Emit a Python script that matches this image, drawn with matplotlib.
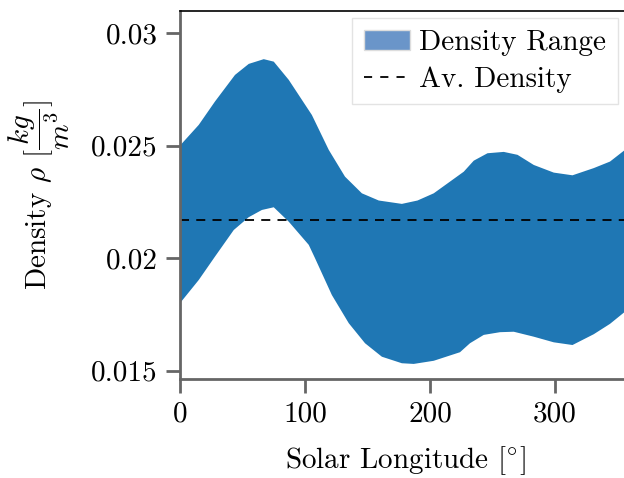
import matplotlib
matplotlib.use('Agg')
from matplotlib import pyplot as plt
from matplotlib.patches import Patch
from matplotlib.lines import Line2D

# solar longitude [deg] and density bounds [kg/m^3]
ls_upper = [0, 15, 28, 44, 55, 67, 75, 87, 105.5, 119, 132, 145.5, 159, 177.5, 190, 203,
            216, 227, 235, 246, 259, 270, 283, 299, 314, 331, 344, 356, 360]
rho_upper = [0.02500, 0.02592, 0.02696, 0.02814, 0.02863, 0.02884, 0.02873, 0.02792, 0.02636,
             0.02481, 0.02362, 0.02288, 0.02256, 0.02241, 0.02256, 0.02288, 0.02340, 0.02384,
             0.02433, 0.02466, 0.02472, 0.02459, 0.02414, 0.02380, 0.02368, 0.02400, 0.02429,
             0.02481, 0.02500]
ls_lower = [0, 15, 28, 43, 55, 65.5, 75, 87, 103, 108, 121.5, 135, 148, 161.5, 177.5, 187,
            203, 224, 232, 243, 256, 267, 283, 299, 314, 331, 344, 356, 360]
rho_lower = [0.01800, 0.01903, 0.02007, 0.02125, 0.02182, 0.02214, 0.02226, 0.02162, 0.02059,
             0.02000, 0.01836, 0.01711, 0.01622, 0.01562, 0.01533, 0.01530, 0.01544, 0.01582,
             0.01622, 0.01659, 0.01671, 0.01673, 0.01651, 0.01626, 0.01614, 0.01662, 0.01708,
             0.01762, 0.01780]
rho_avg = 0.02168

yticks = [0.015, 0.02, 0.025, 0.03]
ytick_labels = ['0.015', '0.02', '0.025', '0.03']
xticks = [0, 100, 200, 300]

plt.rcParams['font.family'] = 'serif'
plt.rcParams['font.serif'] = ['cmr10']
plt.rcParams['mathtext.fontset'] = 'cm'
plt.rcParams['axes.formatter.use_mathtext'] = True
plt.rcParams['font.size'] = 21

fig = plt.figure(figsize=(6.24, 4.78), dpi=100)
ax = fig.add_axes([180 / 624, 1 - 379 / 478, 450 / 624, 368 / 478])

# band between the two bounds as one closed polygon
ax.fill(ls_upper + ls_lower[::-1], rho_upper + rho_lower[::-1], color='#1f77b4', linewidth=0)
ax.axhline(rho_avg, color='black', linestyle='--', linewidth=1.3, dashes=(5, 4))

ax.set_xlim(0, 360)
ax.set_ylim(0.01463, 0.03098)
ax.set_xticks(xticks)
ax.set_xticklabels([str(x) for x in xticks])
ax.set_yticks(yticks)
ax.set_yticklabels(ytick_labels)

for s in ['left', 'bottom']:
    ax.spines[s].set_color('#666666')
    ax.spines[s].set_linewidth(2)
ax.spines['top'].set_linewidth(1.2)
ax.spines['right'].set_visible(False)
ax.tick_params(axis='both', colors='#666666', labelcolor='black', length=10, width=2, pad=6)

ax.set_xlabel(r'Solar Longitude [$^{\circ}$]', labelpad=12)
ax.set_ylabel(r'Density $\rho$ $[\dfrac{kg}{m^3}]$', labelpad=14)

handles = [Patch(facecolor='#6a95c9', edgecolor='#dddddd', label='Density Range'),
           Line2D([], [], color='black', linestyle='--', linewidth=1.3, dashes=(4.5, 4.5), label='Av. Density')]
leg = ax.legend(handles=handles, loc='upper left', bbox_to_anchor=(352 / 624, 1 - 18 / 478),
                bbox_transform=fig.transFigure, frameon=True, fancybox=False,
                handlelength=1.6, handletextpad=0.3, borderpad=0.4, labelspacing=0.35,
                borderaxespad=0)
leg.get_frame().set_edgecolor('#dddddd')
leg.get_frame().set_linewidth(1)

fig.savefig('out.png', dpi=100)
